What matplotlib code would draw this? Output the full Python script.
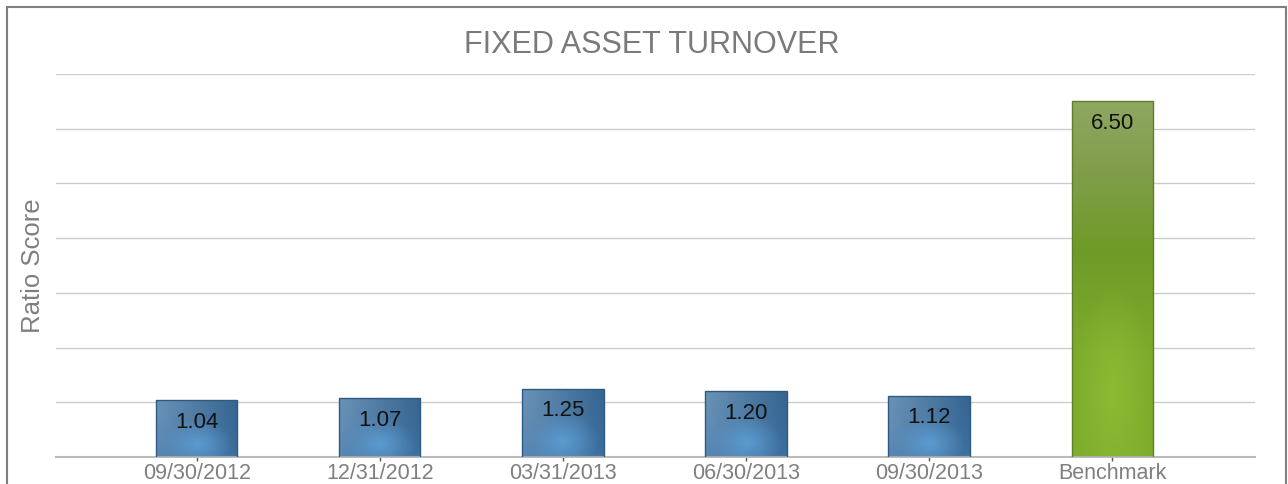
import numpy as np
import matplotlib
matplotlib.use("Agg")
import matplotlib.pyplot as plt
from matplotlib.patches import Rectangle
from matplotlib.colors import to_rgb

categories = ["09/30/2012", "12/31/2012", "03/31/2013", "06/30/2013", "09/30/2013", "Benchmark"]
values = [1.04, 1.07, 1.25, 1.20, 1.12, 6.50]
labels = ["1.04", "1.07", "1.25", "1.20", "1.12", "6.50"]
kinds = ["period", "period", "period", "period", "period", "benchmark"]

plt.rcParams['font.family'] = ['Liberation Sans', 'DejaVu Sans']

W, H = 1288, 484
fig = plt.figure(figsize=(W / 100, H / 100), dpi=100)
fig.patch.set_facecolor("white")

ax = fig.add_axes([56 / W, 1 - 457 / H, (1255 - 56) / W, (457 - 74) / H])
ax.set_facecolor("white")
x = np.arange(len(categories))
ax.set_xlim(-0.770, 5.781)
ax.set_ylim(0, 7)

edge = {"period": "#2f5a80", "benchmark": "#5e7e28"}
bars = ax.bar(x, values, width=0.443, color="none", edgecolor=[edge[k] for k in kinds],
              linewidth=1.0, zorder=3)


def blue_grad(n=120, m=60):
    yy, xx = np.mgrid[0:1:n * 1j, 0:1:m * 1j]  # yy: 0 top -> 1 bottom
    left = np.array(to_rgb("#6a92b6"))
    right = np.array(to_rgb("#356591"))
    t = np.clip(xx, 0, 1)[..., None]
    img = left * (1 - t) + right * t
    bot = np.array(to_rgb("#447aae"))
    v = (np.clip(yy, 0, 1) ** 1.5)[..., None] * 0.5
    img = img * (1 - v) + bot * v
    hi = np.array(to_rgb("#5b9bd0"))
    d = np.sqrt(((xx - 0.5) / 0.45) ** 2 + ((yy - 0.78) / 0.45) ** 2)
    w = np.clip(1 - d, 0, 1)[..., None] ** 1.1
    img = img * (1 - w) + hi * w
    return img


def green_grad(n=300, m=60):
    yy, xx = np.mgrid[0:1:n * 1j, 0:1:m * 1j]
    stops = [(0.0, "#8fa762"), (0.2, "#809e4a"), (0.42, "#6f9a27"), (0.7, "#7eaa2c"), (1.0, "#80ad2d")]
    img = np.zeros(yy.shape + (3,))
    pos = [s[0] for s in stops]
    cols = np.array([to_rgb(s[1]) for s in stops])
    for c in range(3):
        img[..., c] = np.interp(yy, pos, cols[:, c])
    hi = np.array(to_rgb("#8cbb33"))
    d = np.sqrt(((xx - 0.5) / 0.5) ** 2 + ((yy - 0.82) / 0.3) ** 2)
    w = np.clip(1 - d, 0, 1)[..., None] ** 1.0
    img = img * (1 - w) + hi * w
    return img


for b, k in zip(bars, kinds):
    x0, w = b.get_x(), b.get_width()
    h = b.get_height()
    img = blue_grad() if k == "period" else green_grad()
    im = ax.imshow(img, extent=(x0, x0 + w, 0, h), origin="upper", aspect="auto",
                   interpolation="bilinear", zorder=2)
    im.set_clip_path(b)

for xi, v, lab in zip(x, values, labels):
    ax.annotate(lab, xy=(xi, v), xytext=(0, -16), textcoords="offset points",
                ha="center", va="center", fontsize=16, color="#111111", zorder=5)

ax.set_aspect("auto")
ax.set_yticks(np.arange(0, 8, 1))
ax.set_yticklabels([])
ax.tick_params(axis="y", length=0)
ax.grid(axis="y", color="#cccccc", linewidth=1.0, zorder=0)
ax.set_axisbelow(True)
ax.set_xticks(x)
ax.set_xticklabels(categories, fontsize=15.5, color="#7f7f7f")
ax.tick_params(axis="x", length=3, width=1, color="#555555", pad=1)
for s in ["top", "right", "left"]:
    ax.spines[s].set_visible(False)
ax.spines["bottom"].set_color("#bbbbbb")
ax.spines["bottom"].set_linewidth(1.5)

fig.text(652 / W, 1 - 45 / H, "FIXED ASSET TURNOVER", ha="center", va="center",
         fontsize=22, color="#7a7a7a")
fig.text(33 / W, 1 - 266 / H, "Ratio Score", ha="center", va="center", rotation=90,
         fontsize=18.5, color="#7f7f7f")

border = Rectangle((7 / W, -0.1), (1286 - 7) / W, (1 - 7 / H) + 0.1, transform=fig.transFigure,
                   fill=False, edgecolor="#7f7f7f", linewidth=1.5, zorder=10)
fig.patches.append(border)

fig.savefig("out.png", dpi=100, facecolor="white")
